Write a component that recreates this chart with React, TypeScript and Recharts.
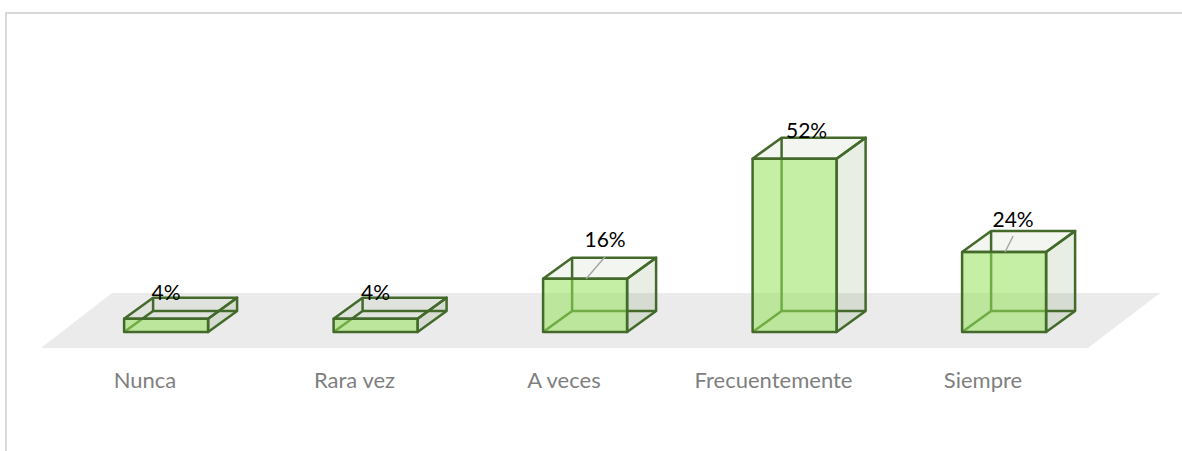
import { Bar, BarChart, LabelList, XAxis, YAxis } from "recharts";

const categories = ["Nunca", "Rara vez", "A veces", "Frecuentemente", "Siempre"];
const percents = [4, 4, 16, 52, 24];

// hand-moved data labels in the original: [dx from bar centre, dy from bar top]
const labelNudges = [
  [0, -27],
  [0, -27],
  [20, -40],
  [12, -29],
  [9, -34],
];
const hasLeader = [false, false, true, false, true];

const data = categories.map((name, i) => ({ name, value: percents[i], idx: i }));

const DEPTH_X = 29;
const DEPTH_Y = -21;
const EDGE = "#436a2b";
const FONT = "Lato, Carlito, sans-serif";

function Box3D({ x, y, width, height }: any) {
  const r = x + width;
  const b = y + height;
  const bx = x + DEPTH_X;
  const brx = r + DEPTH_X;
  const by = y + DEPTH_Y;
  const bby = b + DEPTH_Y;
  const edge = { stroke: EDGE, strokeWidth: 2.5, strokeLinejoin: "round" as const };
  return (
    <g>
      <polygon
        points={`${r},${y} ${brx},${by} ${brx},${bby} ${r},${b}`}
        fill="rgba(80,120,50,0.13)"
        {...edge}
      />
      <polygon
        points={`${x},${y} ${bx},${by} ${brx},${by} ${r},${y}`}
        fill="rgba(80,120,50,0.07)"
        {...edge}
      />
      <line x1={bx} y1={by} x2={bx} y2={bby} {...edge} />
      <line x1={bx} y1={bby} x2={brx} y2={bby} {...edge} />
      <line x1={x} y1={b} x2={bx} y2={bby} {...edge} />
      <rect x={x} y={y} width={width} height={height} fill="rgba(150,225,90,0.55)" {...edge} />
    </g>
  );
}

function BarLabel({ x, y, width, index, value }: any) {
  const [dx, dy] = labelNudges[index];
  const cx = x + width / 2;
  return (
    <g>
      {hasLeader[index] && (
        <line x1={cx + 1} y1={y} x2={cx + dx} y2={y + dy + 18} stroke="#a6a6a6" strokeWidth={1.5} />
      )}
      <text
        x={cx + dx}
        y={y + dy}
        textAnchor="middle"
        dominantBaseline="central"
        fontFamily={FONT}
        fontSize={21}
        fill="#000"
      >
        {value}%
      </text>
    </g>
  );
}

function CategoryTick({ x, y, payload }: any) {
  return (
    <text
      x={x - 21}
      y={y}
      textAnchor="middle"
      dominantBaseline="central"
      fontFamily={FONT}
      fontSize={22}
      fill="#7f7f7f"
    >
      {payload.value}
    </text>
  );
}

export default function App() {
  return (
    <div style={{ position: "absolute", left: 0, top: 0, width: 1182, height: 451, background: "#fff", overflow: "hidden" }}>
      <div
        style={{
          position: "absolute",
          left: 5,
          top: 12,
          width: 1200,
          height: 460,
          borderTop: "2px solid #d9d9d9",
          borderLeft: "2px solid #d9d9d9",
        }}
      />
      <svg style={{ position: "absolute", left: 0, top: 0 }} width={1182} height={451}>
        <polygon points="112,293 1160,293 1088,348 41,348" fill="#ebebeb" />
      </svg>
      <div style={{ position: "absolute", left: 0, top: 0 }}>
        <BarChart
          width={1182}
          height={451}
          data={data}
          barCategoryGap="30%"
          margin={{ top: 132, right: 73.25, bottom: 59, left: 61.25 }}
        >
          <XAxis
            dataKey="name"
            height={60}
            axisLine={false}
            tickLine={false}
            interval={0}
            tickMargin={0}
            tick={<CategoryTick />}
            tickSize={47}
          />
          <YAxis hide domain={[0, 60]} />
          <Bar dataKey="value" shape={<Box3D />} isAnimationActive={false}>
            <LabelList dataKey="value" content={<BarLabel />} />
          </Bar>
        </BarChart>
      </div>
    </div>
  );
}
